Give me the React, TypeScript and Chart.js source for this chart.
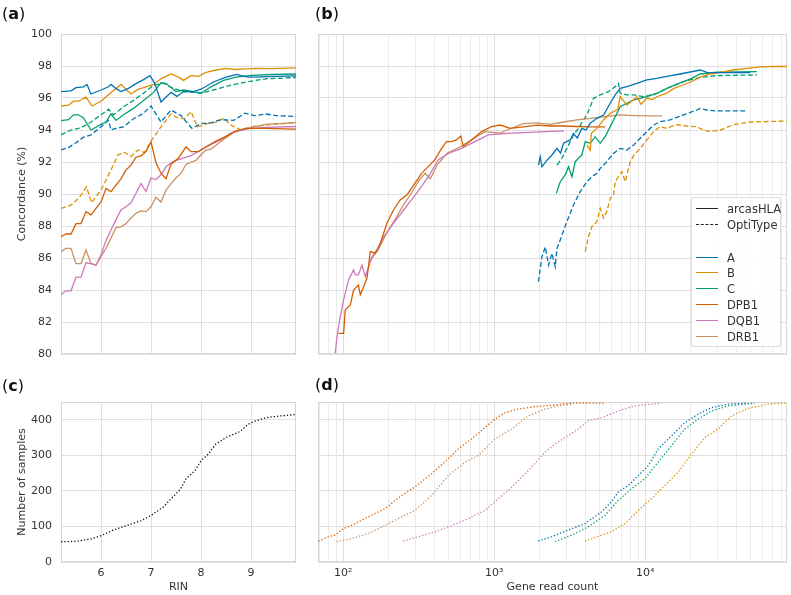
import React, { useEffect, useRef } from 'react';
import { Chart, registerables } from 'chart.js';
Chart.register(...registerables);

const FONT = '"DejaVu Sans", sans-serif';
const TXT = '#333333';
const GRID = '#dfdfdf';
const MINOR = '#ebebeb';
const BOX = '#d6d6d6';

const COL_A = '#0173b2';
const COL_B = '#de8f05';
const COL_C = '#029e73';
const COL_DPB1 = '#d55e00';
const COL_DQB1 = '#cc78bc';
const COL_DRB1 = '#ca9161';

const GENES = ['A', 'B', 'C', 'DPB1', 'DQB1', 'DRB1'];
const GENE_COLORS = [COL_A, COL_B, COL_C, COL_DPB1, COL_DQB1, COL_DRB1];

// ticks
const CONC_TICKS = [80, 82, 84, 86, 88, 90, 92, 94, 96, 98, 100];
const RIN_TICKS = [6, 7, 8, 9];
const COUNT_TICKS = [0, 100, 200, 300, 400, 450];
const DECADE_LABELS: Record<number, string> = { 100: '10²', 1000: '10³', 10000: '10⁴' };
const LOG_TICKS: number[] = [];
for (let e = 1; e <= 4; e++) for (let m = 1; m <= 9; m++) { const v = m * Math.pow(10, e); if (v >= 68 && v <= 87000) LOG_TICKS.push(v); }

// ---------- panel (a): concordance vs RIN ----------
const RIN_A_ARCAS_X = [5.2,5.4,5.5,5.65,5.72,5.8,6.0,6.15,6.2,6.3,6.4,6.55,6.7,6.85,6.98,7.07,7.2,7.4,7.52,7.65,7.85,8.0,8.25,8.5,8.72,8.8,8.95,9.2,9.5,9.9];
const RIN_A_ARCAS_Y = [96.4,96.45,96.65,96.7,96.85,96.25,96.5,96.7,96.85,96.6,96.4,96.6,96.9,97.15,97.4,96.95,95.75,96.35,96.1,96.4,96.4,96.55,97.0,97.3,97.48,97.4,97.3,97.32,97.35,97.38];
const RIN_B_ARCAS_X = [5.2,5.35,5.45,5.55,5.7,5.82,6.0,6.15,6.3,6.4,6.5,6.6,6.75,6.9,7.05,7.2,7.4,7.55,7.65,7.8,7.95,8.1,8.3,8.5,8.7,8.9,9.1,9.4,9.9];
const RIN_B_ARCAS_Y = [95.5,95.55,95.8,95.8,96.05,95.5,95.8,96.2,96.6,96.85,96.55,96.25,96.55,96.7,96.85,97.2,97.5,97.3,97.1,97.4,97.35,97.6,97.75,97.85,97.78,97.82,97.85,97.83,97.88];
const RIN_C_ARCAS_X = [5.2,5.35,5.45,5.55,5.65,5.8,6.0,6.1,6.2,6.3,6.45,6.65,6.85,7.05,7.2,7.3,7.5,7.65,7.85,8.0,8.2,8.45,8.7,9.0,9.4,9.9];
const RIN_C_ARCAS_Y = [94.58,94.65,94.95,94.95,94.75,94.0,94.35,94.5,95.0,94.6,94.95,95.35,95.85,96.35,96.95,96.9,96.4,96.5,96.4,96.3,96.7,97.1,97.3,97.42,97.47,97.5];
const RIN_A_OPTI_X = [5.2,5.35,5.5,5.65,5.8,6.0,6.15,6.2,6.3,6.45,6.65,6.85,7.0,7.07,7.2,7.4,7.6,7.82,8.0,8.2,8.4,8.65,8.88,9.07,9.3,9.5,9.9];
const RIN_A_OPTI_Y = [92.75,92.9,93.2,93.55,93.7,94.2,94.6,94.0,94.1,94.2,94.7,95.05,95.5,95.15,94.5,95.25,94.9,94.1,94.4,94.45,94.65,94.6,95.05,94.9,95.0,94.9,94.85];
const RIN_C_OPTI_X = [5.2,5.4,5.55,5.7,5.8,6.0,6.15,6.25,6.45,6.65,6.85,7.05,7.25,7.45,7.65,7.85,8.0,8.25,8.6,8.9,9.3,9.9];
const RIN_C_OPTI_Y = [93.7,94.0,94.1,94.3,94.5,94.95,95.3,94.95,95.45,95.85,96.3,96.8,96.92,96.6,96.4,96.35,96.3,96.5,96.8,97.0,97.2,97.28];
const RIN_B_OPTI_X = [5.2,5.4,5.57,5.71,5.81,6.0,6.2,6.34,6.47,6.6,6.74,6.87,7.0,7.2,7.4,7.5,7.67,7.8,7.93,8.13,8.33,8.45,8.6,8.8,9.0,9.4,9.9];
const RIN_B_OPTI_Y = [89.1,89.3,89.8,90.45,89.45,90.25,91.5,92.45,92.6,92.35,92.75,92.6,93.3,94.2,95.0,94.8,94.7,95.15,94.2,94.4,94.5,94.75,94.3,94.0,94.2,94.35,94.45];
const RIN_DPB1_X = [5.2,5.3,5.4,5.5,5.6,5.7,5.8,5.9,6.0,6.1,6.2,6.3,6.4,6.5,6.6,6.7,6.8,6.9,7.0,7.1,7.2,7.3,7.4,7.55,7.7,7.8,7.95,8.1,8.3,8.5,8.7,8.9,9.3,9.9];
const RIN_DPB1_Y = [87.33,87.5,87.5,88.15,88.15,88.9,88.7,89.1,89.5,90.35,90.15,90.55,90.95,91.5,91.8,92.3,92.38,92.65,93.25,91.95,91.3,90.95,91.85,92.25,92.95,92.65,92.65,92.95,93.3,93.6,93.95,94.1,94.1,94.05];
const RIN_DQB1_X = [5.2,5.3,5.4,5.5,5.6,5.7,5.8,5.9,6.0,6.1,6.2,6.3,6.4,6.5,6.6,6.7,6.8,6.9,7.0,7.1,7.2,7.3,7.4,7.5,7.6,7.8,8.0,8.2,8.4,8.6,8.8,9.0,9.3,9.9];
const RIN_DQB1_Y = [83.7,83.95,83.95,84.8,84.8,85.7,85.65,85.55,86.2,87.1,87.75,88.4,89.0,89.2,89.45,90.05,90.65,90.15,91.0,90.9,91.2,91.7,91.95,92.1,92.2,92.4,92.75,93.1,93.4,93.8,94.0,94.1,94.17,94.22];
const RIN_DRB1_X = [5.2,5.3,5.4,5.5,5.6,5.7,5.8,5.9,6.0,6.1,6.2,6.3,6.4,6.5,6.6,6.7,6.8,6.9,7.0,7.1,7.2,7.3,7.4,7.5,7.6,7.7,7.8,7.9,8.0,8.1,8.2,8.3,8.45,8.65,9.05,9.3,9.9];
const RIN_DRB1_Y = [86.4,86.6,86.6,85.65,85.65,86.5,85.65,85.55,86.1,86.6,87.25,87.9,87.95,88.15,88.5,88.8,88.95,88.9,89.2,89.8,89.5,90.25,90.65,91.0,91.3,91.85,92.0,92.1,92.45,92.75,92.8,93.05,93.4,93.85,94.2,94.35,94.46];

// ---------- panel (c): samples vs RIN ----------
const RIN_CUM_X = [5.2,5.5,5.8,6.0,6.25,6.5,6.8,7.0,7.25,7.4,7.58,7.7,7.88,8.0,8.15,8.3,8.5,8.78,8.95,9.1,9.3,9.6,9.9];
const RIN_CUM_Y = [57,58,65,74,90,102,116,131,155,178,203,234,257,285,304,332,350,367,388,397,406,411,415];

// ---------- panel (b): concordance vs gene read count ----------
const RC_A_ARCAS_X = [1963,2018,2070,2234,2411,2603,2750,2878,3187,3350,3550,3808,4050,4325,4790,5300,5866,6330,6830,7560,8810,10260,11950,13920,17070,23130,25620,29840,38460,49570];
const RC_A_ARCAS_Y = [91.81,92.33,91.71,92.1,92.44,92.85,92.55,93.17,93.38,93.79,93.5,94.1,94.0,94.42,94.73,94.94,95.67,96.2,96.6,96.71,96.92,97.13,97.23,97.35,97.5,97.75,97.6,97.58,97.58,97.58];
const RC_B_ARCAS_X = [4110,4325,4400,4790,5300,5866,6600,6830,7560,8400,8810,9400,10260,11200,11950,13920,15500,17070,20000,23130,27000,31400,38460,47140,58000,70000,87000];
const RC_B_ARCAS_Y = [93.06,92.73,93.8,94.1,94.63,95.04,95.3,96.1,95.56,95.9,96.08,95.6,96.0,95.9,96.08,96.3,96.6,96.75,97.0,97.3,97.5,97.6,97.75,97.85,97.95,97.97,97.97];
const RC_C_ARCAS_X = [2577,2737,2952,3105,3270,3440,3617,3808,4010,4325,4667,5036,5430,5866,6330,6830,7560,8380,9270,10260,11950,13920,17070,20000,23130,29840,54920];
const RC_C_ARCAS_Y = [90.04,90.77,91.19,91.71,91.08,92.02,92.23,92.44,93.27,93.17,93.58,93.17,93.58,94.21,94.83,95.46,95.67,95.88,95.98,96.08,96.29,96.6,96.95,97.2,97.5,97.62,97.65];
const RC_A_OPTI_X = [1963,2018,2070,2177,2291,2411,2535,2603,2737,3028,3350,3710,4110,4436,4790,5036,5574,6166,6830,7560,8380,9270,10260,11350,12570,14650,17950,21980,23130,25620,29840,45950];
const RC_A_OPTI_Y = [84.52,85.35,86.08,86.69,85.56,86.29,85.46,86.6,87.13,88.27,89.31,90.15,90.77,91.08,91.29,91.6,92.02,92.54,92.85,92.75,93.06,93.48,93.9,94.31,94.52,94.63,94.94,95.25,95.35,95.25,95.19,95.19];
const RC_B_OPTI_X = [4010,4210,4436,4790,5036,5300,5574,5866,6166,6330,7015,7375,7960,8380,9270,10260,11350,12570,13920,14650,16220,18880,21980,24320,26930,31400,38460,49570,87000];
const RC_B_OPTI_Y = [86.4,87.33,87.96,88.27,89.1,88.5,88.9,89.73,89.9,90.77,91.4,90.77,92.02,92.4,92.85,93.38,93.9,94.21,94.1,94.2,94.33,94.25,94.2,94.0,93.9,94.0,94.33,94.5,94.56];
const RC_C_OPTI_X = [2603,2806,3028,3350,3617,3900,4110,4550,5036,5715,6330,6650,6830,7560,8380,9750,11950,13920,17950,23130,29840,54920];
const RC_C_OPTI_Y = [91.81,92.23,92.85,93.69,94.1,94.63,94.94,95.98,96.19,96.4,96.71,96.92,96.3,96.19,96.19,96.08,96.29,96.6,97.02,97.29,97.4,97.44];
const RC_DPB1_X = [93.1,100.5,103,111.3,117,126,129.6,136.3,143.5,151,163,176,194.5,215,238,264,298,330,404,448,483,521,562,601,623,708,824,960,1096,1277,1563,1918,2350,2878,3530,4325,5430];
const RC_DPB1_Y = [81.29,81.29,82.75,83.06,84.0,84.31,83.7,84.2,84.73,86.4,86.3,86.92,88.17,89.0,89.63,89.94,90.67,91.29,92.13,92.85,93.27,93.27,93.38,93.63,92.96,93.38,93.9,94.21,94.31,94.1,94.2,94.3,94.25,94.25,94.22,94.2,94.2];
const RC_DQB1_X = [88.5,90.8,95.5,100.5,108.4,117,120,126,133,140,155,167,185,215,251,292,314,366,426,496,607,745,912,1062,1300,1700,2200,2900];
const RC_DQB1_Y = [80.06,81.08,82.33,83.38,84.63,85.25,84.94,84.94,85.56,84.83,86.08,86.5,87.33,88.17,89.0,89.8,90.2,91.08,92.13,92.54,92.85,93.27,93.69,93.75,93.8,93.85,93.9,93.95];
const RC_DRB1_X = [150,170,195,220,250,280,320,349,377,418,487,596,768,871,1096,1213,1560,1920,2350,2880,3530,4330,5430,6800,8500,10500,12970];
const RC_DRB1_Y = [85.8,86.5,87.6,88.4,89.3,90.0,90.9,91.3,90.95,91.8,92.55,92.95,93.6,93.9,93.8,94.0,94.4,94.45,94.35,94.5,94.63,94.73,94.83,94.94,94.9,94.88,94.88];

// ---------- panel (d): samples vs gene read count ----------
const CUM_A_X = [1954,2395,3090,3990,5140,5980,6625,7710,8990,10480,12200,14940,18300,22450,27500,35500,48100];
const CUM_A_Y = [58.7,71,90,108,141,169,197,215,243,271,318,355,392,416,434,444,447];
const CUM_B_X = [3990,5140,5980,7340,8990,11000,13500,16550,20290,24850,30400,37300,48100,65300,86500];
const CUM_B_Y = [58.7,75.5,85,108,145,178,215,253,304,350,374,411,432,444,447];
const CUM_C_X = [2525,3254,4198,5410,6625,8110,9950,12200,14940,18300,22450,27500,35500,53300];
const CUM_C_Y = [57,75.5,99,131,173,206,234,281,327,374,402,425,439,447];
const CUM_DPB1_X = [68.5,79.6,88.1,100,113.5,146.5,189,243,298,385,495,578,708,868,1011,1178,1443,1862,2400,3254,5410];
const CUM_DPB1_Y = [58.7,71,75.5,94,103,127,150,187,211,248,290,318,346,378,402,420,430,437,441,447,447];
const CUM_DQB1_X = [249,314,405,521,673,868,1062,1238,1443,1768,2168,2525,2940,3598,4198,5140,6625,8550,12820];
const CUM_DQB1_Y = [58.7,71,85,102,122,145,178,201,229,267,309,332,350,374,397,406,425,439,447];
const CUM_DRB1_X = [90.3,113.5,146.5,189,243,298,385,495,640,783,1011,1303,1679,2168,2655,3254];
const CUM_DRB1_Y = [57,66,80,103,127,145,187,243,281,299,346,374,411,430,439,444];

const DASH = [5, 2.5];
const DOT = [1.3, 2];

const pts = (xs: number[], ys: number[]) => xs.map((x, i) => ({ x, y: ys[i] }));
const ds = (label: string, xs: number[], ys: number[], color: string, dash: number[] = []) => ({
  label, data: pts(xs, ys), borderColor: color, backgroundColor: color, borderWidth: 1.3,
  borderDash: dash, pointRadius: 0, fill: false, tension: 0,
});

const boxPlugin = {
  id: 'box',
  beforeDatasetsDraw(chart: any) {
    const { ctx, chartArea: a } = chart;
    ctx.save();
    ctx.strokeStyle = BOX;
    ctx.lineWidth = 1;
    ctx.strokeRect(Math.round(a.left) + 0.5, Math.round(a.top) + 0.5, Math.round(a.right - a.left) - 1, Math.round(a.bottom - a.top) - 1);
    ctx.restore();
  },
};

const font = (size = 11) => ({ family: FONT, size });

function linX(axisHeight: number, showLabels: boolean, title?: string) {
  return {
    type: 'linear', min: 5.2, max: 9.9,
    afterBuildTicks: (s: any) => { s.ticks = RIN_TICKS.map((v) => ({ value: v })); },
    afterFit: (s: any) => { s.height = axisHeight; },
    ticks: { display: showLabels, color: TXT, font: font(11), padding: 5, maxRotation: 0, autoSkip: false },
    grid: { color: GRID, drawTicks: false, lineWidth: 1 },
    border: { display: false },
    title: { display: !!title, text: title || '', color: TXT, font: font(11), padding: { top: 0, bottom: 1 } },
  };
}

function logX(axisHeight: number, showLabels: boolean, title?: string) {
  return {
    type: 'logarithmic', min: 68, max: 87000,
    afterBuildTicks: (s: any) => { s.ticks = LOG_TICKS.map((v) => ({ value: v })); },
    afterFit: (s: any) => { s.height = axisHeight; },
    ticks: {
      display: showLabels, color: TXT, font: font(11), padding: 5, maxRotation: 0, autoSkip: false,
      callback: (v: number) => DECADE_LABELS[v] ?? '',
    },
    grid: {
      color: (c: any) => (c.tick && DECADE_LABELS[c.tick.value] ? GRID : MINOR),
      drawTicks: false, lineWidth: 1,
    },
    border: { display: false },
    title: { display: !!title, text: title || '', color: TXT, font: font(11), padding: { top: 0, bottom: 1 } },
  };
}

function yConc(showLabels: boolean) {
  return {
    type: 'linear', min: 80, max: 100,
    afterBuildTicks: (s: any) => { s.ticks = CONC_TICKS.map((v) => ({ value: v })); },
    afterFit: (s: any) => { s.width = showLabels ? 61 : 18; },
    ticks: { display: showLabels, color: TXT, font: font(11), padding: 9 },
    grid: { color: GRID, drawTicks: false, lineWidth: 1 },
    border: { display: false },
    title: { display: showLabels, text: 'Concordance (%)', color: TXT, font: font(11), padding: { top: 16, bottom: 0 } },
  };
}

function yCount(showLabels: boolean) {
  return {
    type: 'linear', min: 0, max: 450,
    afterBuildTicks: (s: any) => { s.ticks = COUNT_TICKS.map((v) => ({ value: v })); },
    afterFit: (s: any) => { s.width = showLabels ? 61 : 18; },
    ticks: { display: showLabels, color: TXT, font: font(11), padding: 9, callback: (v: number) => (v > 400 ? '' : String(v)) },
    grid: { color: (c: any) => (c.tick && c.tick.value > 400 ? 'rgba(0,0,0,0)' : GRID), drawTicks: false, lineWidth: 1 },
    border: { display: false },
    title: { display: showLabels, text: 'Number of samples', color: TXT, font: font(11), padding: { top: 16, bottom: 0 } },
  };
}

function makeConfig(datasets: any[], x: any, y: any, padding: any) {
  return {
    type: 'line',
    data: { datasets },
    options: {
      responsive: false, animation: false, devicePixelRatio: 1,
      layout: { padding },
      plugins: { legend: { display: false }, tooltip: { enabled: false } },
      scales: { x, y },
    },
    plugins: [boxPlugin],
  };
}

function Panel({ left, top, width, height, config }: any) {
  const ref = useRef<HTMLCanvasElement>(null);
  useEffect(() => {
    const chart = new Chart(ref.current as HTMLCanvasElement, config);
    return () => chart.destroy();
  }, []);
  return (
    <div style={{ position: 'absolute', left, top, width, height }}>
      <canvas ref={ref} width={width} height={height} style={{ display: 'block' }} />
    </div>
  );
}

const PanelLabel = ({ left, top, letter }: any) => (
  <div style={{ position: 'absolute', left, top, fontFamily: FONT, fontSize: 16, color: '#111', lineHeight: '19px' }}>
    (<b>{letter}</b>)
  </div>
);

const LEGEND_ROWS = [
  { label: 'arcasHLA', color: '#222', dash: false, y: 209 },
  { label: 'OptiType', color: '#222', dash: true, y: 225 },
  ...GENES.map((g, i) => ({ label: g, color: GENE_COLORS[i], dash: false, y: [258, 273, 289, 305, 321, 337][i] })),
];

export default function App() {
  const cfgA = makeConfig([
    ds('A', RIN_A_ARCAS_X, RIN_A_ARCAS_Y, COL_A),
    ds('B', RIN_B_ARCAS_X, RIN_B_ARCAS_Y, COL_B),
    ds('C', RIN_C_ARCAS_X, RIN_C_ARCAS_Y, COL_C),
    ds('DPB1', RIN_DPB1_X, RIN_DPB1_Y, COL_DPB1),
    ds('DQB1', RIN_DQB1_X, RIN_DQB1_Y, COL_DQB1),
    ds('DRB1', RIN_DRB1_X, RIN_DRB1_Y, COL_DRB1),
    ds('A OptiType', RIN_A_OPTI_X, RIN_A_OPTI_Y, COL_A, DASH),
    ds('B OptiType', RIN_B_OPTI_X, RIN_B_OPTI_Y, COL_B, DASH),
    ds('C OptiType', RIN_C_OPTI_X, RIN_C_OPTI_Y, COL_C, DASH),
  ], linX(16, false), yConc(true), { top: 34, right: 4, bottom: 0, left: 0 });

  const cfgB = makeConfig([
    ds('A', RC_A_ARCAS_X, RC_A_ARCAS_Y, COL_A),
    ds('B', RC_B_ARCAS_X, RC_B_ARCAS_Y, COL_B),
    ds('C', RC_C_ARCAS_X, RC_C_ARCAS_Y, COL_C),
    ds('DPB1', RC_DPB1_X, RC_DPB1_Y, COL_DPB1),
    ds('DQB1', RC_DQB1_X, RC_DQB1_Y, COL_DQB1),
    ds('DRB1', RC_DRB1_X, RC_DRB1_Y, COL_DRB1),
    ds('A OptiType', RC_A_OPTI_X, RC_A_OPTI_Y, COL_A, DASH),
    ds('B OptiType', RC_B_OPTI_X, RC_B_OPTI_Y, COL_B, DASH),
    ds('C OptiType', RC_C_OPTI_X, RC_C_OPTI_Y, COL_C, DASH),
  ], logX(0, false), yConc(false), { top: 34, right: 4, bottom: 6, left: 0 });

  const cfgC = makeConfig([
    ds('samples', RIN_CUM_X, RIN_CUM_Y, '#111', DOT),
  ], linX(33, true, 'RIN'), yCount(true), { top: 42, right: 4, bottom: 0, left: 0 });

  const cfgD = makeConfig([
    ds('DPB1', CUM_DPB1_X, CUM_DPB1_Y, COL_DPB1, DOT),
    ds('DRB1', CUM_DRB1_X, CUM_DRB1_Y, COL_DRB1, DOT),
    ds('DQB1', CUM_DQB1_X, CUM_DQB1_Y, COL_DQB1, DOT),
    ds('A', CUM_A_X, CUM_A_Y, COL_A, DOT),
    ds('C', CUM_C_X, CUM_C_Y, COL_C, DOT),
    ds('B', CUM_B_X, CUM_B_Y, COL_B, DOT),
  ], logX(33, true, 'Gene read count'), yCount(false), { top: 42, right: 4, bottom: 0, left: 0 });

  return (
    <div style={{ position: 'absolute', left: 0, top: 0, width: 791, height: 595, background: '#fff', overflow: 'hidden' }}>
      <Panel left={0} top={360} width={300} height={235} config={cfgC} />
      <Panel left={300} top={360} width={491} height={235} config={cfgD} />
      <Panel left={0} top={0} width={300} height={370} config={cfgA} />
      <Panel left={300} top={0} width={491} height={360} config={cfgB} />
      <PanelLabel left={2} top={4} letter="a" />
      <PanelLabel left={315} top={4} letter="b" />
      <PanelLabel left={2} top={376} letter="c" />
      <PanelLabel left={315} top={375} letter="d" />
      <div style={{ position: 'absolute', left: 691, top: 197, width: 90, height: 150, border: '1px solid #dddddd', borderRadius: 3, background: 'rgba(255,255,255,0.85)', boxSizing: 'border-box' }} />
      {LEGEND_ROWS.map((r) => (
        <div key={r.label} style={{ position: 'absolute', left: 696, top: r.y - 8, height: 16, width: 84 }}>
          <div style={{ position: 'absolute', left: 0, top: 7, width: 22, borderTop: `1.5px ${r.dash ? 'dashed' : 'solid'} ${r.color}` }} />
          <div style={{ position: 'absolute', left: 31, top: 0, lineHeight: '16px', fontFamily: FONT, fontSize: 11.5, color: TXT, whiteSpace: 'nowrap' }}>{r.label}</div>
        </div>
      ))}
    </div>
  );
}
